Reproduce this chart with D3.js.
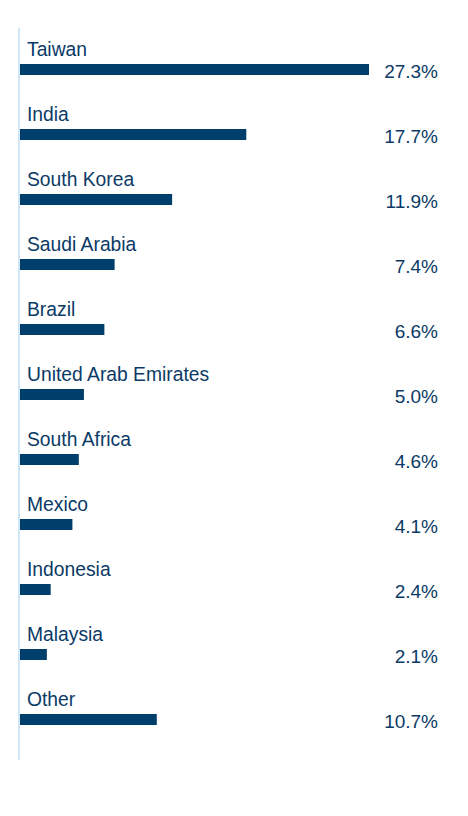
<!DOCTYPE html>
<html>
<head>
<meta charset="utf-8">
<script src="https://cdn.jsdelivr.net/npm/d3@7"></script>
<style>
  html, body { margin: 0; padding: 0; background: #ffffff; }
  svg { display: block; }
</style>
</head>
<body>
<svg id="chart" width="468" height="816"></svg>
<script>
const categories = ["Taiwan", "India", "South Korea", "Saudi Arabia", "Brazil", "United Arab Emirates", "South Africa", "Mexico", "Indonesia", "Malaysia", "Other"];
const values = [27.3, 17.7, 11.9, 7.4, 6.6, 5.0, 4.6, 4.1, 2.4, 2.1, 10.7];
const valueLabels = ["27.3%", "17.7%", "11.9%", "7.4%", "6.6%", "5.0%", "4.6%", "4.1%", "2.4%", "2.1%", "10.7%"];

const data = categories.map((c, i) => ({ c, v: values[i], l: valueLabels[i] }));

const svg = d3.select("#chart");
const navy = "#003e6b";
const textCol = "#0b3a66";

const x = d3.scaleLinear().domain([0, 27.3]).range([20, 369]);
const y = d3.scaleBand().domain(categories).range([34, 749]).paddingInner(0).paddingOuter(0);

svg.append("line")
  .attr("x1", 19).attr("x2", 19)
  .attr("y1", 28).attr("y2", 760)
  .attr("stroke", "#cfe7f7").attr("stroke-width", 2);

const g = svg.selectAll("g.row").data(data).join("g").attr("class", "row");

g.append("rect")
  .attr("x", x(0))
  .attr("y", d => y(d.c) + 30)
  .attr("width", d => x(d.v) - x(0))
  .attr("height", 11)
  .attr("fill", navy);

g.append("text")
  .attr("x", 27)
  .attr("y", d => y(d.c) + 21.5)
  .attr("font-family", "Liberation Sans, Arial, sans-serif")
  .attr("font-size", 19.3)
  .attr("fill", textCol)
  .text(d => d.c);

g.append("text")
  .attr("x", 438)
  .attr("y", d => y(d.c) + 44)
  .attr("text-anchor", "end")
  .attr("font-family", "Liberation Sans, Arial, sans-serif")
  .attr("font-size", 19)
  .attr("fill", textCol)
  .text(d => d.l);
</script>
</body>
</html>
